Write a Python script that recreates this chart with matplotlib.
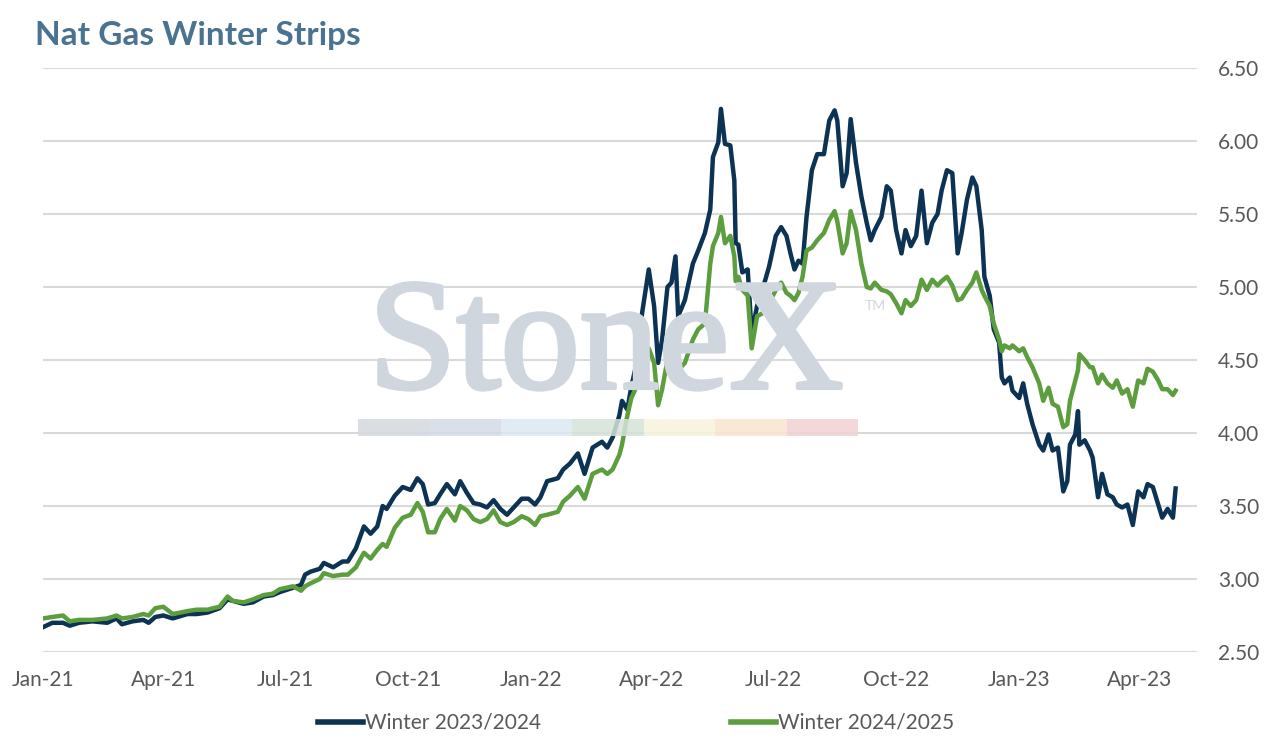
import pandas as pd
import matplotlib.pyplot as plt
import matplotlib.dates as mdates
import matplotlib.patheffects as pe
from matplotlib.patches import Rectangle
from matplotlib.lines import Line2D

# ── data ────────────────────────────────────────────────────────────────
dates = [
    '2021-01-01', '2021-01-08', '2021-01-16', '2021-01-21', '2021-01-28', '2021-02-07',
    '2021-02-18', '2021-02-25', '2021-03-01', '2021-03-09', '2021-03-17', '2021-03-21',
    '2021-03-26', '2021-04-01', '2021-04-08', '2021-04-19', '2021-04-26', '2021-05-04',
    '2021-05-13', '2021-05-19', '2021-05-23', '2021-05-31', '2021-06-07', '2021-06-15',
    '2021-06-22', '2021-06-27', '2021-07-07', '2021-07-13', '2021-07-16', '2021-07-20',
    '2021-07-27', '2021-07-30', '2021-08-06', '2021-08-13', '2021-08-17', '2021-08-23',
    '2021-08-29', '2021-09-03', '2021-09-08', '2021-09-12', '2021-09-15', '2021-09-21',
    '2021-09-27', '2021-10-03', '2021-10-08', '2021-10-12', '2021-10-16', '2021-10-21',
    '2021-10-25', '2021-10-30', '2021-11-05', '2021-11-09', '2021-11-14', '2021-11-19',
    '2021-11-24', '2021-11-29', '2021-12-04', '2021-12-09', '2021-12-14', '2021-12-19',
    '2021-12-25', '2021-12-30', '2022-01-04', '2022-01-08', '2022-01-13', '2022-01-21',
    '2022-01-25', '2022-01-30', '2022-02-05', '2022-02-10', '2022-02-16', '2022-02-23',
    '2022-02-27', '2022-03-03', '2022-03-08', '2022-03-10', '2022-03-14', '2022-03-17',
    '2022-03-21', '2022-03-25', '2022-03-30', '2022-04-03', '2022-04-06', '2022-04-09',
    '2022-04-13', '2022-04-16', '2022-04-19', '2022-04-21', '2022-04-26', '2022-05-02',
    '2022-05-06', '2022-05-11', '2022-05-15', '2022-05-17', '2022-05-21', '2022-05-23',
    '2022-05-26', '2022-05-30', '2022-06-02', '2022-06-03', '2022-06-05', '2022-06-08',
    '2022-06-12', '2022-06-15', '2022-06-19', '2022-06-23', '2022-06-28', '2022-07-03',
    '2022-07-07', '2022-07-11', '2022-07-14', '2022-07-17', '2022-07-20', '2022-07-23',
    '2022-07-26', '2022-07-30', '2022-08-03', '2022-08-08', '2022-08-12', '2022-08-16',
    '2022-08-18', '2022-08-22', '2022-08-25', '2022-08-28', '2022-09-01', '2022-09-05',
    '2022-09-09', '2022-09-12', '2022-09-15', '2022-09-20', '2022-09-24', '2022-09-27',
    '2022-10-01', '2022-10-05', '2022-10-08', '2022-10-12', '2022-10-16', '2022-10-20',
    '2022-10-24', '2022-10-28', '2022-11-01', '2022-11-04', '2022-11-08', '2022-11-12',
    '2022-11-16', '2022-11-19', '2022-11-23', '2022-11-27', '2022-11-30', '2022-12-04',
    '2022-12-06', '2022-12-10', '2022-12-13', '2022-12-17', '2022-12-19', '2022-12-21',
    '2022-12-25', '2022-12-27', '2023-01-01', '2023-01-04', '2023-01-07', '2023-01-11',
    '2023-01-16', '2023-01-19', '2023-01-23', '2023-01-26', '2023-01-30', '2023-02-03',
    '2023-02-06', '2023-02-08', '2023-02-12', '2023-02-14', '2023-02-15', '2023-02-19',
    '2023-02-23', '2023-02-25', '2023-03-01', '2023-03-04', '2023-03-08', '2023-03-12',
    '2023-03-15', '2023-03-19', '2023-03-23', '2023-03-27', '2023-03-31', '2023-04-04',
    '2023-04-07', '2023-04-11', '2023-04-15', '2023-04-18', '2023-04-22', '2023-04-26',
    '2023-04-28',
]

winter_2324 = [
    2.67, 2.70, 2.70, 2.68, 2.70, 2.71, 2.70, 2.73, 2.69, 2.71, 2.72, 2.70,
    2.74, 2.75, 2.73, 2.76, 2.76, 2.77, 2.80, 2.86, 2.85, 2.83, 2.84, 2.88,
    2.89, 2.91, 2.94, 2.96, 3.03, 3.05, 3.07, 3.11, 3.08, 3.12, 3.12, 3.21,
    3.36, 3.31, 3.36, 3.50, 3.48, 3.57, 3.63, 3.61, 3.69, 3.65, 3.51, 3.52,
    3.58, 3.65, 3.58, 3.67, 3.59, 3.52, 3.51, 3.49, 3.54, 3.48, 3.44, 3.49,
    3.55, 3.55, 3.51, 3.56, 3.67, 3.69, 3.75, 3.79, 3.86, 3.72, 3.90, 3.94,
    3.90, 3.97, 4.12, 4.22, 4.16, 4.32, 4.48, 4.82, 5.12, 4.87, 4.48, 4.64,
    5.00, 5.03, 5.21, 4.80, 4.91, 5.16, 5.25, 5.37, 5.53, 5.89, 5.99, 6.22,
    5.98, 5.97, 5.73, 5.30, 5.29, 5.10, 5.12, 4.68, 4.87, 4.98, 5.14, 5.35,
    5.41, 5.35, 5.23, 5.12, 5.18, 5.16, 5.48, 5.80, 5.91, 5.91, 6.14, 6.21,
    6.14, 5.69, 5.78, 6.15, 5.85, 5.62, 5.44, 5.32, 5.39, 5.48, 5.69, 5.66,
    5.39, 5.23, 5.39, 5.28, 5.35, 5.66, 5.30, 5.44, 5.50, 5.66, 5.80, 5.78,
    5.23, 5.37, 5.60, 5.75, 5.69, 5.39, 5.07, 4.94, 4.71, 4.62, 4.38, 4.34,
    4.38, 4.29, 4.24, 4.34, 4.20, 4.06, 3.92, 3.88, 3.99, 3.88, 3.90, 3.60,
    3.67, 3.92, 3.99, 4.15, 3.92, 3.95, 3.88, 3.83, 3.56, 3.72, 3.58, 3.56,
    3.51, 3.49, 3.51, 3.37, 3.60, 3.56, 3.65, 3.63, 3.51, 3.42, 3.48, 3.42,
    3.62,
]

winter_2425 = [
    2.73, 2.74, 2.75, 2.71, 2.72, 2.72, 2.73, 2.75, 2.73, 2.74, 2.76, 2.75,
    2.80, 2.81, 2.76, 2.78, 2.79, 2.79, 2.81, 2.88, 2.85, 2.84, 2.86, 2.89,
    2.90, 2.93, 2.95, 2.92, 2.95, 2.97, 3.00, 3.04, 3.02, 3.03, 3.03, 3.08,
    3.18, 3.14, 3.20, 3.24, 3.22, 3.35, 3.42, 3.44, 3.52, 3.46, 3.32, 3.32,
    3.41, 3.48, 3.40, 3.50, 3.47, 3.41, 3.39, 3.41, 3.47, 3.39, 3.37, 3.39,
    3.43, 3.41, 3.37, 3.43, 3.44, 3.46, 3.53, 3.57, 3.63, 3.55, 3.72, 3.75,
    3.72, 3.75, 3.85, 3.92, 4.12, 4.24, 4.32, 4.41, 4.58, 4.48, 4.19, 4.30,
    4.50, 4.62, 4.62, 4.43, 4.48, 4.64, 4.71, 4.75, 5.16, 5.28, 5.37, 5.48,
    5.30, 5.35, 5.21, 5.04, 5.07, 4.98, 4.94, 4.58, 4.80, 4.82, 4.89, 4.98,
    5.03, 4.96, 4.94, 4.91, 4.96, 5.07, 5.25, 5.27, 5.32, 5.37, 5.46, 5.52,
    5.45, 5.23, 5.30, 5.52, 5.39, 5.16, 5.00, 4.99, 5.03, 4.98, 4.97, 4.95,
    4.89, 4.82, 4.91, 4.87, 4.91, 5.05, 4.98, 5.05, 5.01, 5.04, 5.07, 5.01,
    4.91, 4.92, 4.98, 5.03, 5.10, 4.98, 4.94, 4.87, 4.75, 4.64, 4.56, 4.60,
    4.58, 4.60, 4.56, 4.58, 4.52, 4.45, 4.34, 4.22, 4.31, 4.20, 4.18, 4.04,
    4.06, 4.22, 4.36, 4.43, 4.54, 4.50, 4.45, 4.45, 4.34, 4.40, 4.34, 4.31,
    4.36, 4.27, 4.30, 4.18, 4.36, 4.34, 4.44, 4.42, 4.36, 4.30, 4.30, 4.26,
    4.29,
]

y_ticks = [2.50, 3.00, 3.50, 4.00, 4.50, 5.00, 5.50, 6.00, 6.50]
x_ticks = ['2021-01-01', '2021-04-01', '2021-07-01', '2021-10-01', '2022-01-01',
           '2022-04-01', '2022-07-01', '2022-10-01', '2023-01-01', '2023-04-01']
logo_colors = ['#d4d9df', '#d3dbe6', '#dce8f1', '#d5e3d8', '#f7f3dc', '#f8e5cf', '#f1d2d3']

# ── plot ────────────────────────────────────────────────────────────────
plt.rcParams['font.family'] = ['Lato', 'DejaVu Sans']

DARK = '#0c3254'
GREEN = '#5c9e3d'
TXT = '#595959'
WM = '#d0d6de'

x = pd.to_datetime(dates)

fig = plt.figure(figsize=(12.72, 7.43), dpi=100)
ax = fig.add_axes([43 / 1272, 1 - 652 / 743, (1197 - 43) / 1272, 584 / 743])

# watermark behind the lines
fig.text(606 / 1272, 1 - 388 / 743, 'StoneX', fontsize=114, family='Liberation Serif',
         color=WM, ha='center', va='baseline', zorder=0,
         path_effects=[pe.withStroke(linewidth=3, foreground=WM)])
fig.text(865 / 1272, 1 - 310 / 743, 'TM', fontsize=10, color=WM, zorder=0)
seg_w = (858 - 358) / 1272 / len(logo_colors)
for i, c in enumerate(logo_colors):
    fig.patches.append(Rectangle((358 / 1272 + i * seg_w, 1 - 436 / 743), seg_w, 17 / 743,
                                 transform=fig.transFigure, facecolor=c, edgecolor='none',
                                 alpha=0.85, zorder=0))
ax.set_facecolor('none')

ax.plot(x, winter_2324, color=DARK, lw=3.2, solid_joinstyle='round', zorder=3)
ax.plot(x, winter_2425, color=GREEN, lw=3.2, solid_joinstyle='round', zorder=3)

ax.set_ylim(2.5, 6.5)
ax.set_yticks(y_ticks)
ax.set_yticklabels([f'{v:.2f}' for v in y_ticks])
ax.yaxis.tick_right()
ax.grid(axis='y', color='#d9d9d9', lw=1.5)
ax.set_axisbelow(True)

ax.set_xlim(pd.Timestamp('2021-01-01'), pd.Timestamp('2023-05-14'))
ax.set_xticks(pd.to_datetime(x_ticks))
ax.xaxis.set_major_formatter(mdates.DateFormatter('%b-%y'))
ax.tick_params(axis='both', length=0, labelsize=15, labelcolor=TXT)
ax.tick_params(axis='y', pad=15)
ax.tick_params(axis='x', pad=13)
for s in ax.spines.values():
    s.set_visible(False)

fig.text(35 / 1272, 1 - 45 / 743, 'Nat Gas Winter Strips', fontsize=24, fontweight='bold',
         color='#4a7391', va='baseline')

handles = [Line2D([], [], color=DARK, lw=4), Line2D([], [], color=GREEN, lw=4)]
fig.legend(handles, ['Winter 2023/2024', 'Winter 2024/2025'], loc='center',
           bbox_to_anchor=(0.5, 0.027), ncol=2, frameon=False, fontsize=15,
           labelcolor=TXT, handlelength=2.16, handletextpad=0.1, columnspacing=9.1)

fig.savefig('out.png', dpi=100)
